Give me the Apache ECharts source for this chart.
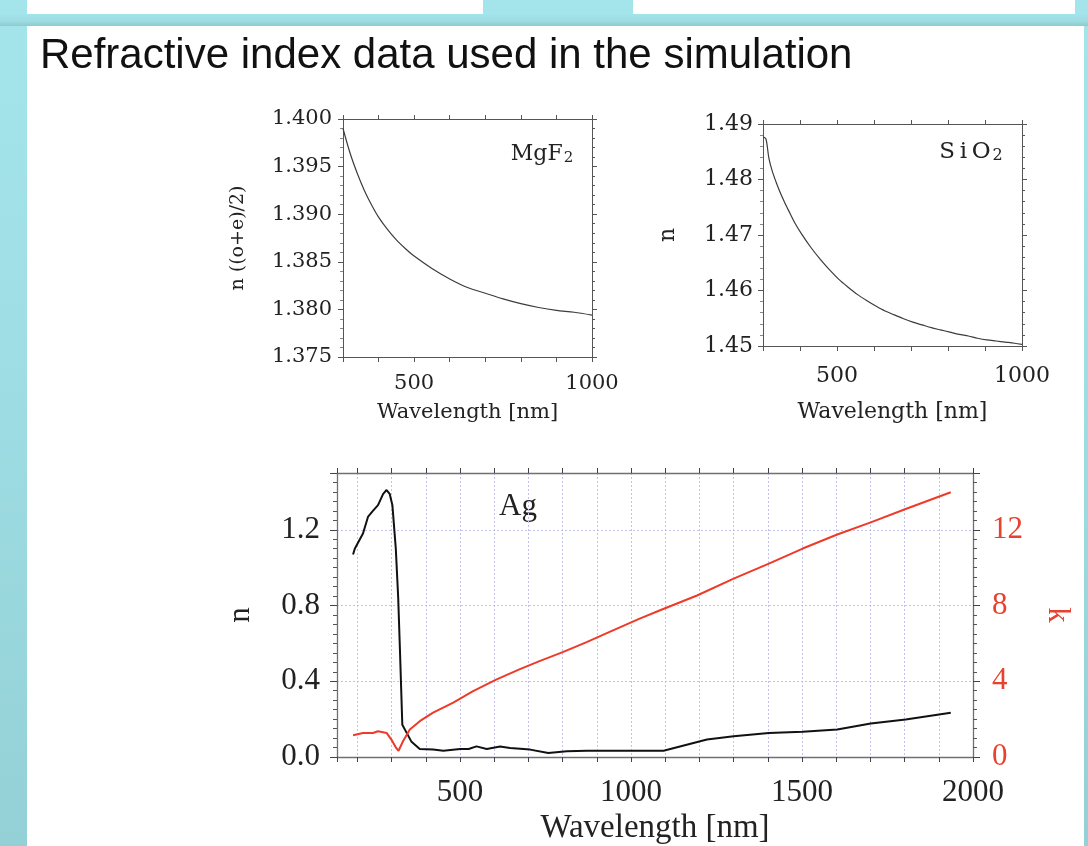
<!DOCTYPE html>
<html>
<head>
<meta charset="utf-8">
<title>Refractive index data used in the simulation</title>
<script src="https://cdn.jsdelivr.net/npm/echarts@6/dist/echarts.min.js"></script>
<style>
  html, body { margin: 0; padding: 0; width: 1088px; height: 846px; overflow: hidden; }
  body { position: relative; background: linear-gradient(180deg, #a4e5ec 0%, #9edde3 45%, #93d1d6 100%); }
  .sheet { position: absolute; background: #ffffff; }
  .band { position: absolute; left: 0; top: 14px; width: 1088px; height: 12px;
          background: linear-gradient(180deg, #a2e4eb 0%, #9edde2 55%, #8dcbcf 100%); }
  #chart { position: absolute; left: 0; top: 0; width: 1088px; height: 846px; }
</style>
</head>
<body>
<div class="band"></div>
<div class="sheet" style="left:27px;top:0;width:456px;height:14px;"></div>
<div class="sheet" style="left:633px;top:0;width:442px;height:14px;"></div>
<div class="sheet" style="left:27px;top:26px;width:1057px;height:820px;"></div>
<div id="chart"></div>
<script>
// MgF2: average of ordinary and extraordinary index
const mgf2Wavelength = [300, 320, 340, 360, 380, 400, 425, 450, 475, 500, 550, 600, 650, 700, 750, 800, 850, 900, 950, 1000];
const mgf2Index = [1.3990, 1.3964, 1.3943, 1.3925, 1.3910, 1.3897, 1.3884, 1.3873, 1.3864, 1.3856, 1.3843, 1.3832, 1.3823, 1.3817, 1.3811, 1.3806, 1.3802, 1.3799, 1.3797, 1.3794];

// SiO2 refractive index
const sio2Wavelength = [300, 308, 316, 325, 335, 345, 357, 370, 385, 405, 430, 455, 480, 505, 530, 555, 580, 605, 630, 655, 680, 705, 730, 755, 780, 805, 830, 855, 880, 905, 930, 955, 980, 1000];
const sio2Index = [1.4877, 1.4873, 1.4838, 1.4815, 1.4796, 1.4779, 1.4761, 1.4743, 1.4723, 1.4701, 1.4677, 1.4656, 1.4637, 1.4620, 1.4606, 1.4593, 1.4582, 1.4572, 1.4563, 1.4556, 1.4549, 1.4543, 1.4538, 1.4533, 1.4529, 1.4525, 1.4521, 1.4518, 1.4514, 1.4511, 1.4509, 1.4507, 1.4505, 1.4503];

// Ag: real part n
const agNWavelength = [187, 192, 201, 216, 231, 245, 260, 275, 285, 294, 302, 312, 319, 324, 331, 343, 358, 382, 421, 451, 500, 525, 548, 578, 617, 646, 705, 758, 812, 871, 950, 1095, 1222, 1300, 1403, 1502, 1603, 1701, 1803, 1935];
const agN = [1.07, 1.10, 1.13, 1.18, 1.27, 1.30, 1.33, 1.39, 1.41, 1.39, 1.33, 1.10, 0.84, 0.57, 0.17, 0.13, 0.08, 0.042, 0.039, 0.033, 0.042, 0.042, 0.056, 0.042, 0.056, 0.048, 0.039, 0.021, 0.030, 0.033, 0.033, 0.033, 0.092, 0.109, 0.127, 0.133, 0.145, 0.177, 0.198, 0.234];

// Ag: extinction coefficient k
const agKWavelength = [187, 216, 245, 260, 285, 299, 313, 320, 333, 353, 382, 421, 480, 538, 607, 675, 734, 802, 870, 939, 997, 1027, 1085, 1193, 1300, 1403, 1502, 1603, 1701, 1803, 1935];
const agK = [1.15, 1.27, 1.27, 1.36, 1.27, 0.92, 0.48, 0.33, 0.83, 1.45, 1.89, 2.34, 2.87, 3.48, 4.10, 4.64, 5.08, 5.55, 6.07, 6.62, 7.08, 7.32, 7.75, 8.53, 9.42, 10.21, 11.01, 11.75, 12.39, 13.10, 13.98];

// Tick label values
const agNTicks = [0, 0.4, 0.8, 1.2];
const agKTicks = [0, 4, 8, 12];
const wideStep = 500;

const pairs = (xs, ys) => xs.map((x, i) => [x, ys[i]]);
const near = (v, list) => list.some(t => Math.abs(t - v) < 1e-6);
const onStep = v => Math.abs(v / wideStep - Math.round(v / wideStep)) < 1e-6;

const SMALL_FONT = 'DejaVu Serif';
const BIG_FONT = 'Liberation Serif';
const FRAME = '#555555';
const AG_FRAME = '#707070';
const RED = '#e8412f';
const GRIDLINE = '#c2c2f0';

function frameAxis(extra) {
  return Object.assign({
    type: 'value',
    axisLine: { show: true, onZero: false, lineStyle: { color: FRAME, width: 1 } },
    axisTick: { show: true, inside: false, length: 5, lineStyle: { color: FRAME } },
    axisLabel: { show: false },
    splitLine: { show: false }
  }, extra);
}

const chart = echarts.init(document.getElementById('chart'), null, { renderer: 'canvas' });

const option = {
  animation: false,
  backgroundColor: 'transparent',
  grid: [
    { left: 343, top: 119, width: 249, height: 238 },
    { left: 763, top: 124, width: 259, height: 222 },
    { left: 337, top: 473, width: 636, height: 286 }
  ],
  xAxis: [
    // MgF2
    frameAxis({
      gridIndex: 0, position: 'bottom', min: 300, max: 1000, interval: 100,
      axisLabel: { show: true, margin: 16, fontFamily: SMALL_FONT, fontSize: 21, color: '#222',
        formatter: v => onStep(v) ? String(v) : '' },
      name: 'Wavelength [nm]', nameLocation: 'middle', nameGap: 45,
      nameTextStyle: { fontFamily: SMALL_FONT, fontSize: 21, color: '#222' }
    }),
    frameAxis({ gridIndex: 0, position: 'top', min: 300, max: 1000, interval: 100, axisTick: { show: true, length: 4, lineStyle: { color: FRAME } } }),
    // SiO2
    frameAxis({
      gridIndex: 1, position: 'bottom', min: 300, max: 1000, interval: 100,
      axisLabel: { show: true, margin: 19, fontFamily: SMALL_FONT, fontSize: 22, color: '#222',
        formatter: v => onStep(v) ? String(v) : '' },
      name: 'Wavelength [nm]', nameLocation: 'middle', nameGap: 55,
      nameTextStyle: { fontFamily: SMALL_FONT, fontSize: 22, color: '#222' }
    }),
    frameAxis({ gridIndex: 1, position: 'top', min: 300, max: 1000, interval: 100, axisTick: { show: true, length: 4, lineStyle: { color: FRAME } } }),
    // Ag
    frameAxis({
      gridIndex: 2, position: 'bottom', min: 140, max: 2000, splitNumber: 18,
      axisLine: { show: true, onZero: false, lineStyle: { color: AG_FRAME, width: 1.3 } },
      axisTick: { show: true, length: 5, lineStyle: { color: '#444' } },
      axisLabel: { show: true, margin: 20, fontFamily: BIG_FONT, fontSize: 31, color: '#222',
        formatter: v => onStep(v) ? String(v) : '' },
      splitLine: { show: true, lineStyle: { color: GRIDLINE, type: [2, 2], width: 1 } },
      name: 'Wavelength [nm]', nameLocation: 'middle', nameGap: 55,
      nameTextStyle: { fontFamily: BIG_FONT, fontSize: 33, color: '#222' }
    }),
    frameAxis({
      gridIndex: 2, position: 'top', min: 140, max: 2000, splitNumber: 18,
      axisLine: { show: true, onZero: false, lineStyle: { color: AG_FRAME, width: 1.3 } },
      axisTick: { show: true, length: 5, lineStyle: { color: '#444' } }
    })
  ],
  yAxis: [
    // MgF2
    frameAxis({
      gridIndex: 0, position: 'left', min: 1.375, max: 1.400, interval: 0.005,
      minorTick: { show: true, splitNumber: 5, length: 3, lineStyle: { color: '#888' } },
      axisLabel: { show: true, margin: 11, fontFamily: SMALL_FONT, fontSize: 21, color: '#222',
        formatter: v => v.toFixed(3) },
      name: 'n ((o+e)/2)', nameLocation: 'middle', nameRotate: 90, nameGap: 95,
      nameTextStyle: { fontFamily: SMALL_FONT, fontSize: 19, color: '#222' }
    }),
    frameAxis({
      gridIndex: 0, position: 'right', min: 1.375, max: 1.400, interval: 0.005,
      minorTick: { show: true, splitNumber: 5, length: 3, lineStyle: { color: FRAME } }
    }),
    // SiO2
    frameAxis({
      gridIndex: 1, position: 'left', min: 1.45, max: 1.49, interval: 0.01,
      minorTick: { show: true, splitNumber: 5, length: 3, lineStyle: { color: '#888' } },
      axisLabel: { show: true, margin: 10, fontFamily: SMALL_FONT, fontSize: 22, color: '#222',
        formatter: v => v.toFixed(2) },
      name: 'n', nameLocation: 'middle', nameRotate: 90, nameGap: 84,
      nameTextStyle: { fontFamily: SMALL_FONT, fontSize: 22, color: '#222' }
    }),
    frameAxis({
      gridIndex: 1, position: 'right', min: 1.45, max: 1.49, interval: 0.01,
      minorTick: { show: true, splitNumber: 5, length: 3, lineStyle: { color: FRAME } }
    }),
    // Ag n
    frameAxis({
      gridIndex: 2, position: 'left', min: 0, max: 1.5, interval: 0.4,
      axisLine: { show: true, onZero: false, lineStyle: { color: AG_FRAME, width: 1.3 } },
      axisTick: { show: true, length: 7, lineStyle: { color: '#444' } },
      minorTick: { show: true, splitNumber: 8, length: 4, lineStyle: { color: '#555' } },
      axisLabel: { show: true, margin: 17, fontFamily: BIG_FONT, fontSize: 31, color: '#222',
        formatter: v => near(v, agNTicks) ? v.toFixed(1) : '' },
      splitLine: { show: true, lineStyle: { color: GRIDLINE, type: [2, 2], width: 1 } },
      name: 'n', nameLocation: 'middle', nameRotate: 90, nameGap: 81,
      nameTextStyle: { fontFamily: BIG_FONT, fontSize: 31, color: '#222' }
    }),
    // Ag k
    frameAxis({
      gridIndex: 2, position: 'right', min: 0, max: 15, interval: 4,
      axisLine: { show: true, onZero: false, lineStyle: { color: AG_FRAME, width: 1.3 } },
      axisTick: { show: true, length: 7, lineStyle: { color: '#444' } },
      minorTick: { show: true, splitNumber: 8, length: 4, lineStyle: { color: '#555' } },
      axisLabel: { show: true, margin: 19, fontFamily: BIG_FONT, fontSize: 31, color: RED,
        formatter: v => near(v, agKTicks) ? String(Math.round(v)) : '' },
      name: 'k', nameLocation: 'middle', nameRotate: -90, nameGap: 69,
      nameTextStyle: { fontFamily: BIG_FONT, fontSize: 31, color: RED }
    })
  ],
  series: [
    {
      name: 'MgF2', type: 'line', xAxisIndex: 0, yAxisIndex: 0,
      data: pairs(mgf2Wavelength, mgf2Index), showSymbol: false, smooth: 0.3,
      lineStyle: { color: '#3c3c3c', width: 1.2 }
    },
    {
      name: 'SiO2', type: 'line', xAxisIndex: 2, yAxisIndex: 2,
      data: pairs(sio2Wavelength, sio2Index), showSymbol: false, smooth: 0.3,
      lineStyle: { color: '#3c3c3c', width: 1.2 }
    },
    {
      name: 'n', type: 'line', xAxisIndex: 4, yAxisIndex: 4,
      data: pairs(agNWavelength, agN), showSymbol: false,
      lineStyle: { color: '#111111', width: 2 }
    },
    {
      name: 'k', type: 'line', xAxisIndex: 4, yAxisIndex: 5,
      data: pairs(agKWavelength, agK), showSymbol: false,
      lineStyle: { color: '#ee3a28', width: 2 }
    }
  ],
  graphic: [
    {
      type: 'text', left: 40, top: 35,
      style: { text: 'Refractive index data used in the simulation', font: '42px "Liberation Sans"', fill: '#111111' }
    },
    {
      type: 'text', x: 542, y: 154,
      style: {
        text: '{m|MgF}{s|2}', align: 'center', verticalAlign: 'middle',
        rich: {
          m: { fontFamily: SMALL_FONT, fontSize: 22, fill: '#222' },
          s: { fontFamily: SMALL_FONT, fontSize: 15, fill: '#222', padding: [8, 0, 0, 1] }
        }
      }
    },
    {
      type: 'text', x: 971, y: 152,
      style: {
        text: '{m|S\u2009i\u2009O}{s|2}', align: 'center', verticalAlign: 'middle',
        rich: {
          m: { fontFamily: SMALL_FONT, fontSize: 23, fill: '#222' },
          s: { fontFamily: SMALL_FONT, fontSize: 16, fill: '#222', padding: [8, 0, 0, 2] }
        }
      }
    },
    {
      type: 'text', x: 518, y: 507,
      style: { text: 'Ag', align: 'center', verticalAlign: 'middle', font: '31px "Liberation Serif"', fill: '#222' }
    }
  ]
};

chart.setOption(option);
</script>
</body>
</html>
